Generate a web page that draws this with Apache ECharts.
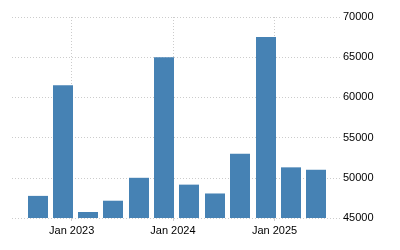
<!DOCTYPE html>
<html>
<head>
<meta charset="utf-8">
<script src="https://cdn.jsdelivr.net/npm/echarts@6/dist/echarts.min.js"></script>
<style>html,body{margin:0;padding:0;background:#fff}#c{width:400px;height:250px}</style>
</head>
<body>
<div id="c"></div>
<script>
var dates = ['2022-08-31','2022-11-30','2023-02-28','2023-05-31','2023-08-31','2023-11-30','2024-02-29','2024-05-31','2024-08-31','2024-11-30','2025-02-28','2025-05-31'];
var values = [47750, 61500, 45750, 47150, 50000, 65000, 49150, 48050, 53000, 67500, 51300, 51000];
var yTicks = [45000, 50000, 55000, 60000, 65000, 70000];
var monthNames = ['Jan','Feb','Mar','Apr','May','Jun','Jul','Aug','Sep','Oct','Nov','Dec'];

var DAY = 24*3600*1000;
var chart = echarts.init(document.getElementById('c'), null, {renderer:'canvas'});
chart.setOption({
  animation: false,
  grid: {left: 12, right: 60, top: 17, bottom: 32, containLabel: false},
  xAxis: {
    type: 'time',
    min: '2022-05-31',
    max: '2025-08-25',
    minInterval: 365*DAY,
    maxInterval: 366*DAY,
    axisLine: {show: false},
    axisTick: {show: true, length: 3, lineStyle: {color: '#ccc'}},
    axisLabel: {
      fontFamily: 'Liberation Sans, Arial, sans-serif', fontSize: 11, color: '#000', margin: 7,
      showMinLabel: false, showMaxLabel: false,
      formatter: function (v) { var d = new Date(v); return monthNames[d.getMonth()] + ' ' + d.getFullYear(); }
    },
    splitLine: {show: true, showMinLine: false, showMaxLine: false, lineStyle: {color: '#ccc', type: [1, 2], width: 1}}
  },
  yAxis: {
    type: 'value',
    position: 'right',
    min: yTicks[0], max: yTicks[yTicks.length-1], interval: 5000,
    axisLine: {show: false},
    axisTick: {show: false},
    axisLabel: {fontFamily: 'Liberation Sans, Arial, sans-serif', fontSize: 11, color: '#000', margin: 3,
      formatter: function (v) { return String(v); }},
    splitLine: {show: true, lineStyle: {color: '#ccc', type: [1, 2], width: 1}}
  },
  series: [{
    type: 'custom',
    data: dates.map(function (d, i) { return [d, values[i]]; }),
    encode: {x: 0, y: 1},
    renderItem: function (params, api) {
      var top = api.coord([api.value(0), api.value(1)]);
      var base = api.coord([api.value(0), yTicks[0]]);
      var w = 20;
      return {
        type: 'rect',
        shape: {x: Math.round(top[0] - w / 2), y: top[1], width: w, height: base[1] - top[1]},
        style: {fill: '#4682B4'}
      };
    }
  }]
});
</script>
</body>
</html>
